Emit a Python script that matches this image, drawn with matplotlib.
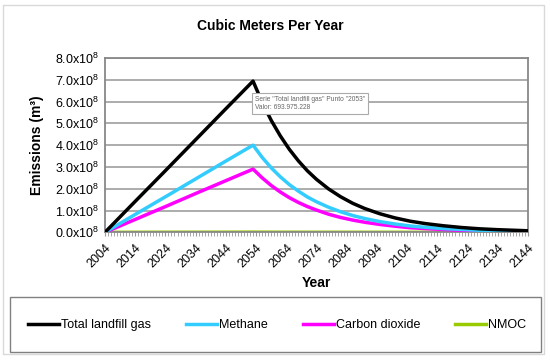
import matplotlib.pyplot as plt
from matplotlib.patches import Rectangle
from matplotlib.ticker import MultipleLocator

plt.rcParams['font.family'] = ['Liberation Sans', 'DejaVu Sans']

# values (x 1e8 m3)
years = [2004, 2014, 2024, 2034, 2044, 2053, 2056, 2059, 2062, 2065, 2068, 2071,
         2074, 2078, 2082, 2086, 2090, 2095, 2100, 2105, 2110, 2116, 2122, 2128,
         2134, 2140, 2144]
total = [0, 1.42, 2.83, 4.25, 5.67, 6.94, 5.97, 5.14, 4.43, 3.81, 3.28, 2.82,
         2.43, 1.99, 1.63, 1.33, 1.09, 0.85, 0.66, 0.51, 0.40, 0.30, 0.22, 0.16,
         0.12, 0.09, 0.07]
methane = [0, 0.82, 1.63, 2.45, 3.27, 4.00, 3.44, 2.96, 2.55, 2.19, 1.89, 1.62,
           1.40, 1.15, 0.94, 0.77, 0.63, 0.49, 0.38, 0.29, 0.23, 0.17, 0.13, 0.09,
           0.07, 0.05, 0.04]
co2 = [0, 0.59, 1.18, 1.78, 2.37, 2.90, 2.50, 2.15, 1.85, 1.59, 1.37, 1.18,
       1.02, 0.83, 0.68, 0.56, 0.46, 0.36, 0.28, 0.21, 0.17, 0.13, 0.09, 0.07,
       0.05, 0.04, 0.03]
nmoc = [0, 0.001, 0.003, 0.004, 0.005, 0.007, 0.006, 0.005, 0.004, 0.004, 0.003, 0.003,
        0.002, 0.002, 0.002, 0.001, 0.001, 0.001, 0.001, 0, 0, 0, 0, 0,
        0, 0, 0]
year_ticks = list(range(2004, 2145, 10))
y_ticks = [0, 1, 2, 3, 4, 5, 6, 7, 8]

fig = plt.figure(figsize=(5.5, 3.61), dpi=100)

# outer border and legend box
fig.patches.append(Rectangle((3 / 550, 1 - 354 / 361), 541 / 550, 349 / 361,
                             transform=fig.transFigure, fill=False,
                             edgecolor='#d9d9d9', linewidth=1))
fig.patches.append(Rectangle((10 / 550, 1 - 352 / 361), 531 / 550, 55 / 361,
                             transform=fig.transFigure, fill=False,
                             edgecolor='#808080', linewidth=1))

ax = fig.add_axes([105 / 550, 1 - 232.3 / 361, 423 / 550, 174.3 / 361])

ax.plot(years, nmoc, color='#99cc00', lw=2.5, label='NMOC', zorder=2)
ax.plot(years, co2, color='#ff00ff', lw=2.5, label='Carbon dioxide', zorder=3)
ax.plot(years, methane, color='#33ccff', lw=2.5, label='Methane', zorder=4)
ax.plot(years, total, color='black', lw=2.5, label='Total landfill gas', zorder=5)

ax.set_xlim(2004, 2144)
ax.set_ylim(0, 8)
ax.set_yticks(y_ticks)
ax.set_yticklabels([r'$\mathregular{%d.0x10^{8}}$' % v for v in y_ticks], fontsize=9)
ax.set_xticks(year_ticks)
ax.set_xticklabels([str(y) for y in year_ticks], fontsize=9, rotation=45,
                   ha='right', va='top', rotation_mode='anchor')
ax.xaxis.set_minor_locator(MultipleLocator(1))
ax.tick_params(axis='x', which='both', direction='out', length=3, color='#999999', pad=4)
ax.tick_params(axis='y', length=0, pad=4)
ax.grid(axis='y', color='#a6a6a6', lw=1.3)
ax.set_axisbelow(True)
for s in ax.spines.values():
    s.set_color('#888888')
    s.set_linewidth(1.3)

fig.text(270 / 550, 1 - 26 / 361, 'Cubic Meters Per Year', fontsize=10,
         fontweight='bold', ha='center', va='center')
ax.set_xlabel('Year', fontsize=10, fontweight='bold', labelpad=4)
ax.set_ylabel('Emissions (m³)', fontsize=10, fontweight='bold', labelpad=8)

# tooltip from the original screenshot
ax.annotate('Serie "Total landfill gas" Punto "2053"\nValor: 693.975.228',
            xy=(2053.6, 6.25), fontsize=4.8, color='#666666', ha='left', va='top',
            bbox=dict(boxstyle='square,pad=0.4', fc='white', ec='#aaaaaa', lw=0.8),
            zorder=6)

handles, labels = ax.get_legend_handles_labels()
order = [3, 2, 1, 0]
fig.legend([handles[i] for i in order], [labels[i] for i in order],
           loc='center', bbox_to_anchor=(277 / 550, 1 - 325 / 361), ncol=4,
           frameon=False, fontsize=9, handlelength=2.5, handletextpad=0.15,
           columnspacing=2.8)

fig.savefig('out.png', dpi=100)
